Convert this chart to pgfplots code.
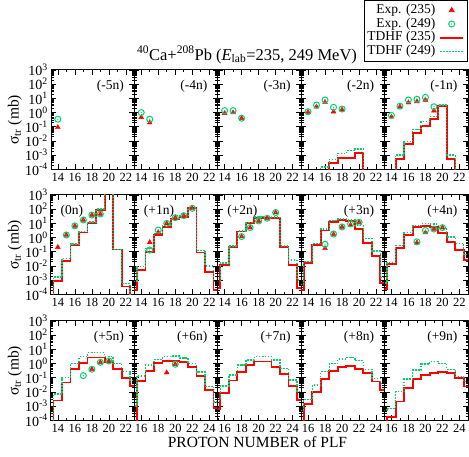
\documentclass[border=0pt]{standalone}
\usepackage{pgfplots}
\usepackage{pgfplotstable}
\usepackage{fontspec}
\setmainfont{Liberation Serif}
\pgfplotsset{compat=1.18}
\definecolor{cgreen}{RGB}{0,210,110}
\definecolor{cred}{RGB}{255,0,0}
\newcommand\fs[1]{\fontsize{#1}{#1}\selectfont}

% exp. marker: open circle with a dot in the middle
\pgfdeclareplotmark{odot}{%
  \pgfpathcircle{\pgfpointorigin}{\pgfplotmarksize}\pgfusepathqstroke
  \pgfpathcircle{\pgfpointorigin}{0.6pt}\pgfusepathqfill}

% TDHF histograms: Z, log10 sigma (235), log10 sigma (249); -9 = below the axis
\pgfplotstableread{
Z r g
15 -9 -9
16 -9 -3.85
17 -3.58 -3.29
18 -3.22 -2.87
19 -3.18 -2.69
20 -2.83 -2.57
21 -9 -9
}\tdA
\pgfplotstableread{
Z r g
14 -9 -9
15 -3.29 -2.99
16 -2.21 -2.05
17 -1.42 -1.18
18 -0.93 -0.64
19 -0.46 -0.29
20 0.46 0.53
21 -3.29 -2.99
22 -9 -9
}\tdB
\pgfplotstableread{
Z r g
13 -9 -9
14 -3.05 -2.78
15 -1.68 -1.48
16 -0.55 -0.46
17 0.35 0.42
18 1.02 1.10
19 1.94 2.00
20 4 4
21 -0.84 -0.84
22 -3.45 -3.22
23 -9 -9
}\tdC
\pgfplotstableread{
Z r g
12 -9 -9
13 -3.69 -3.10
14 -2.29 -2.05
15 -1.00 -0.76
16 0.18 0.30
17 0.77 0.89
18 1.28 1.36
19 1.47 1.55
20 2.06 2.10
21 -1.05 -0.90
22 -2.40 -2.00
23 -3.69 -3.10
24 -9 -9
}\tdD
\pgfplotstableread{
Z r g
12 -9 -9
13 -3.57 -3.10
14 -1.93 -1.80
15 -0.64 -0.60
16 0.42 0.45
17 1.00 1.05
18 1.36 1.45
19 1.40 1.50
20 1.40 1.45
21 -0.64 -0.60
22 -1.93 -1.58
23 -3.57 -3.00
24 -9 -9
}\tdE
\pgfplotstableread{
Z r g
12 -9 -9
13 -3.69 -3.30
14 -1.81 -1.70
15 -0.52 -0.42
16 0.50 0.60
17 1.12 1.20
18 1.24 1.32
19 1.15 1.25
20 0.60 0.85
21 -0.40 -0.05
22 -1.30 -0.95
23 -3.20 -2.80
24 -9 -9
}\tdF
\pgfplotstableread{
Z r g
12 -9 -9
13 -3.60 -3.20
14 -1.88 -1.75
15 -0.71 -0.55
16 0.18 0.35
17 0.72 0.85
18 0.84 1.00
19 0.77 0.95
20 0.30 0.60
21 -0.33 0.05
22 -0.87 -0.40
23 -1.58 -1.20
24 -9 -9
}\tdG
\pgfplotstableread{
Z r g
13 -9 -9
14 -2.61 -2.16
15 -1.34 -0.99
16 -0.40 0.02
17 0.02 0.49
18 0.42 0.77
19 0.42 0.77
20 0.07 0.49
21 -0.40 0.02
22 -1.04 -0.57
23 -1.60 -1.20
24 -9 -9
}\tdH
\pgfplotstableread{
Z r g
14 -9 -9
15 -9 -3.00
16 -1.23 -0.87
17 -0.50 -0.10
18 0.02 0.30
19 0.18 0.49
20 0.20 0.52
21 0.10 0.40
22 -0.26 0.00
23 -0.85 -0.60
24 -1.86 -1.60
25 -3.15 -2.70
26 -9 -9
}\tdI
\pgfplotstableread{
Z r g
14 -9 -9
15 -3.20 -2.60
16 -2.05 -1.58
17 -1.20 -0.80
18 -0.57 -0.10
19 -0.10 0.25
20 0.14 0.50
21 0.14 0.50
22 -0.22 0.25
23 -0.72 -0.33
24 -1.58 -1.15
25 -2.56 -1.98
26 -9 -9
}\tdJ
\pgfplotstableread{
Z r g
14 -9 -9
15 -9 -3.30
16 -2.87 -2.52
17 -1.98 -1.50
18 -1.08 -0.57
19 -0.52 0.02
20 -0.26 0.32
21 -0.17 0.42
22 -0.40 0.21
23 -0.69 -0.40
24 -1.27 -1.04
25 -1.86 -1.39
26 -9 -9
}\tdK
\pgfplotstableread{
Z r g
14 -9 -9
15 -9 -3.30
16 -3.74 -3.15
17 -2.68 -1.98
18 -1.74 -1.08
19 -1.11 -0.45
20 -0.80 -0.03
21 -0.64 0.14
22 -0.57 0.02
23 -0.69 -0.40
24 -1.04 -0.92
25 -1.62 -1.27
26 -9 -9
}\tdL

% experiment: Z, log10 sigma (235), log10 sigma (249)
\pgfplotstableread{
Z r g
14 -1.04 -0.47
}\exA
\pgfplotstableread{
Z r g
14 -0.33 0.00
15 -0.71 -0.47
}\exB
\pgfplotstableread{
Z r g
14 -0.05 0.14
15 0.00 0.14
16 -0.40 -0.40
}\exC
\pgfplotstableread{
Z r g
14 0.03 0.06
15 0.41 0.53
16 0.72 0.89
17 0.06 0.37
18 0.20 0.25
}\exD
\pgfplotstableread{
Z r g
14 -0.30 -0.20
15 0.41 0.45
16 0.70 0.89
17 0.78 0.94
18 0.89 1.07
19 0.13 0.41
}\exE
\pgfplotstableread{
Z r g
14 -0.68 nan
15 0.18 0.18
16 0.82 0.82
17 1.24 1.24
18 1.59 1.59
19 1.66 1.66
}\exF
\pgfplotstableread{
Z r g
15 -0.34 -0.88
16 0.37 0.53
17 1.00 1.00
18 1.40 1.40
19 1.54 1.54
20 2.06 2.06
}\exG
\pgfplotstableread{
Z r g
16 0.07 0.07
17 0.70 0.70
18 1.17 1.17
19 1.36 1.36
20 1.76 1.76
}\exH
\pgfplotstableread{
Z r g
16 -0.76 -0.47
17 0.23 0.25
18 0.75 0.75
19 0.89 0.96
20 1.08 1.08
}\exI
\pgfplotstableread{
Z r g
17 -0.36 -0.30
18 0.35 0.50
19 0.60 0.60
20 0.70 0.70
}\exJ
\pgfplotstableread{
Z r g
17 nan -0.85
18 -0.40 -0.40
19 0.09 0.09
20 0.18 0.18
}\exK
\pgfplotstableread{
Z r g
19 -0.64 nan
20 -0.05 -0.05
}\exL

\pgfplotsset{
  panel/.style={
    scale only axis, width=83.4pt, height=99.3pt, anchor=north west,
    ymin=-4, ymax=3, ytick={-4,...,3}, yticklabels={},
    minor ytick={-3.69897,-3.52288,-3.39794,-3.30103,-3.22185,-3.15490,-3.09691,-3.04576,
      -2.69897,-2.52288,-2.39794,-2.30103,-2.22185,-2.15490,-2.09691,-2.04576,
      -1.69897,-1.52288,-1.39794,-1.30103,-1.22185,-1.15490,-1.09691,-1.04576,
      -0.69897,-0.52288,-0.39794,-0.30103,-0.22185,-0.15490,-0.09691,-0.04576,
      0.30103,0.47712,0.60206,0.69897,0.77815,0.84510,0.90309,0.95424,
      1.30103,1.47712,1.60206,1.69897,1.77815,1.84510,1.90309,1.95424,
      2.30103,2.47712,2.60206,2.69897,2.77815,2.84510,2.90309,2.95424},
    xmin=13.2, xmax=23, xtick={14,16,...,22}, minor xtick={13,...,25},
    tick align=inside, major tick length=5pt, minor tick length=2.5pt,
    every tick/.style={black, line width=0.6pt},
    axis line style={line width=1pt},
    /pgf/number format/assume math mode=true,
    xticklabel style={font=\fs{12.5}},
    yticklabel style={font=\fs{14}, inner xsep=3pt, inner ysep=0pt},
  },
  first/.style={yticklabels={10\textsuperscript{-4},10\textsuperscript{-3},10\textsuperscript{-2},
      10\textsuperscript{-1},10\textsuperscript{0},10\textsuperscript{1},10\textsuperscript{2},10\textsuperscript{3}}},
  late/.style={xmin=15.2, xmax=25, xtick={16,18,...,24}},
  tdhfR/.style={cred, line width=1.8pt, const plot mark mid, no marks,
    legend image code/.code={\draw[##1] (0pt,0pt) -- (23pt,0pt);}},
  tdhfG/.style={cgreen, line width=1.4pt, dash pattern=on 1.5pt off 1.5pt, const plot mark mid, no marks,
    legend image code/.code={\draw[##1] (0pt,0pt) -- (23pt,0pt);}},
  expR/.style={only marks, mark=triangle*, mark size=2.8pt, cred, mark options={solid, fill=cred},
    legend image code/.code={\draw[##1] plot coordinates {(11.5pt,0pt)};}},
  expG/.style={only marks, mark=odot, mark size=3pt, cgreen, mark options={solid, line width=1pt, fill=cgreen},
    legend image code/.code={\draw[##1] plot coordinates {(11.5pt,0pt)};}},
}
\newcommand\tdhf[1]{%
  \addplot[tdhfR] table[x=Z, y=r] {#1};
  \addplot[tdhfG] table[x=Z, y=g] {#1};}
\newcommand\expt[1]{%
  \addplot[expR] table[x=Z, y=r] {#1};
  \addplot[expG] table[x=Z, y=g] {#1};}
\newcommand\labR[1]{\node[anchor=east, font=\fs{13.5}, xshift=-7pt, yshift=-16pt] at (rel axis cs:1,1) {#1};}
\newcommand\labL[1]{\node[anchor=west, font=\fs{13.5}, xshift=6pt, yshift=-16pt] at (rel axis cs:0,1) {#1};}

\begin{document}
\begin{tikzpicture}
\useasboundingbox (0,0) rectangle (469pt,-457pt);

% row 1
\begin{axis}[panel, first, at={(51pt,-70pt)}]
  \expt{\exA} \labR{(-5n)}
\end{axis}
\begin{axis}[panel, at={(134.4pt,-70pt)}]
  \expt{\exB} \labR{(-4n)}
\end{axis}
\begin{axis}[panel, at={(217.8pt,-70pt)}]
  \expt{\exC} \labR{(-3n)}
\end{axis}
\begin{axis}[panel, at={(301.2pt,-70pt)}]
  \expt{\exD} \tdhf{\tdA} \labR{(-2n)}
\end{axis}
\begin{axis}[panel, at={(384.6pt,-70pt)},
    legend entries={Exp. (235),Exp. (249),TDHF (235),TDHF (249)},
    legend plot pos=right, legend cell align=right,
    legend style={at={(1,1.703)}, anchor=north east, draw=black, line width=0.8pt,
      font=\fs{13.5}, inner sep=3.5pt, row sep=1.2pt, column sep=4pt,
      nodes={inner sep=0pt, text height=9.5pt, text depth=3pt}}]
  \expt{\exE} \tdhf{\tdB} \labR{(-1n)}
\end{axis}

% row 2
\begin{axis}[panel, first, at={(51pt,-195pt)}]
  \expt{\exF} \tdhf{\tdC} \labL{(0n)}
\end{axis}
\begin{axis}[panel, at={(134.4pt,-195pt)}]
  \expt{\exG} \tdhf{\tdD} \labL{(+1n)}
\end{axis}
\begin{axis}[panel, at={(217.8pt,-195pt)}]
  \expt{\exH} \tdhf{\tdE} \labL{(+2n)}
\end{axis}
\begin{axis}[panel, at={(301.2pt,-195pt)}]
  \expt{\exI} \tdhf{\tdF} \labR{(+3n)}
\end{axis}
\begin{axis}[panel, at={(384.6pt,-195pt)}]
  \expt{\exJ} \tdhf{\tdG} \labR{(+4n)}
\end{axis}

% row 3
\begin{axis}[panel, first, at={(51pt,-321pt)}]
  \expt{\exK} \tdhf{\tdH} \labR{(+5n)}
\end{axis}
\begin{axis}[panel, late, at={(134.4pt,-321pt)}]
  \expt{\exL} \tdhf{\tdI} \labR{(+6n)}
\end{axis}
\begin{axis}[panel, late, at={(217.8pt,-321pt)}]
  \tdhf{\tdJ} \labR{(+7n)}
\end{axis}
\begin{axis}[panel, late, at={(301.2pt,-321pt)}]
  \tdhf{\tdK} \labR{(+8n)}
\end{axis}
\begin{axis}[panel, late, at={(384.6pt,-321pt)}]
  \tdhf{\tdL} \labR{(+9n)}
\end{axis}

% titles and labels
\node[font=\fs{16.5}] at (247pt,-55pt)
  {\textsuperscript{40}Ca+\textsuperscript{208}Pb (\textit{E}\textsubscript{lab}=235, 249 MeV)};
\foreach \yc in {119.7,244.7,370.7}
  \node[rotate=90, font=\fs{15.5}, inner sep=0pt] at (15pt,-\yc pt) {σ\textsubscript{tr} (mb)};
\node[font=\fs{15.5}] at (257.5pt,-442pt) {PROTON NUMBER of PLF};
\end{tikzpicture}
\end{document}
